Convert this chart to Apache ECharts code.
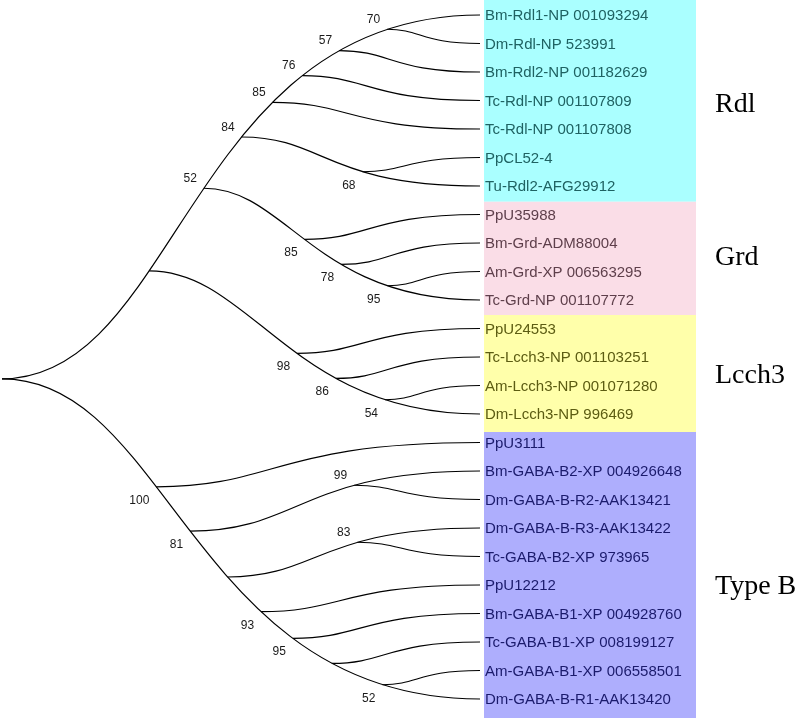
<!DOCTYPE html>
<html><head><meta charset="utf-8">
<script src="https://cdn.jsdelivr.net/npm/echarts@6/dist/echarts.min.js"></script>
<style>html,body{margin:0;padding:0;background:#fff}#c{width:800px;height:720px}</style>
</head><body><div id="c"></div>
<script>
// ---- data ----
const leafNames = [
  'Bm-Rdl1-NP 001093294','Dm-Rdl-NP 523991','Bm-Rdl2-NP 001182629','Tc-Rdl-NP 001107809',
  'Tc-Rdl-NP 001107808','PpCL52-4','Tu-Rdl2-AFG29912',
  'PpU35988','Bm-Grd-ADM88004','Am-Grd-XP 006563295','Tc-Grd-NP 001107772',
  'PpU24553','Tc-Lcch3-NP 001103251','Am-Lcch3-NP 001071280','Dm-Lcch3-NP 996469',
  'PpU3111','Bm-GABA-B2-XP 004926648','Dm-GABA-B-R2-AAK13421','Dm-GABA-B-R3-AAK13422',
  'Tc-GABA-B2-XP 973965','PpU12212','Bm-GABA-B1-XP 004928760','Tc-GABA-B1-XP 008199127',
  'Am-GABA-B1-XP 006558501','Dm-GABA-B-R1-AAK13420'
];
const nodeIds    = ['root','nX','nA52','nA84','nA85','nA76','nA57','nA70','nA68','nG85','nG78','nG95','nL98','nL86','nL54','nB100','nB81','nB99','nB3','nB83','nB93','nB95','nB6','nB52'];
const nodeUpper  = ['nX','nA52','nA84','nA85','nA76','nA57','nA70','L0','L5','L7','L8','L9','L11','L12','L13','L15','nB99','L16','nB83','L18','L20','L21','L22','L23'];
const nodeLower  = ['nB100','nL98','nG85','nA68','L4','L3','L2','L1','L6','nG78','nG95','L10','nL86','nL54','L14','nB81','nB3','L17','nB93','L19','nB95','nB6','nB52','L24'];
const nodeDepth  = [0,32.2,41.2,49.2,55.9,63.0,71.1,81.8,75.5,63.4,70.7,80.8,61.7,69.7,80.1,33.7,38.9,73.8,46.2,74.3,53.6,60.7,69.2,80.8];
const nodeSupport= ['','','52','84','85','76','57','70','68','85','78','95','98','86','54','100','81','99','','83','93','95','','52'];
const leafDepth = 100;
const groupNames    = ['Rdl','Grd','Lcch3','Type B'];
const groupFrom     = [-0.53, 6.55, 10.53, 14.63];
const groupTo       = [6.55, 10.53, 14.63, 24.67];
const groupLabelRow = [3.16, 8.53, 12.67, 20.06];

// ---- styles ----
const boxFill  = ['#aaffff','#fadde7','#ffffaa','#aeaefd'];
const textFill = ['#1f6262','#5e3f4b','#5c5c12','#1b1b6c'];
const BOX_GAP = 4, BOX_W = 212, GROUP_GAP = 19;

// ---- tree helpers ----
const idx = {}; nodeIds.forEach((id,i)=>idx[id]=i);
const isLeaf = id => id[0]==='L';
const leafIndex = id => +id.slice(1);
const rowCache = {};
function rowOf(id){
  if (isLeaf(id)) return leafIndex(id);
  if (rowCache[id]!=null) return rowCache[id];
  const i = idx[id];
  return rowCache[id] = (rowOf(nodeUpper[i]) + rowOf(nodeLower[i]))/2;
}
const depthOf = id => isLeaf(id) ? leafDepth : nodeDepth[idx[id]];

// chains: a branch path that keeps going in one vertical direction down to a leaf
const chains = []; const nodeDir = {};
function follow(start, first, dir){
  const pts=[start]; chains.push(pts); let cur=first;
  while(true){
    pts.push(cur);
    if (isLeaf(cur)) break;
    nodeDir[cur]=dir;
    const i=idx[cur];
    const cont = dir==='up' ? nodeUpper[i] : nodeLower[i];
    const side = dir==='up' ? nodeLower[i] : nodeUpper[i];
    follow(cur, side, dir==='up' ? 'down' : 'up');
    cur=cont;
  }
}
follow('root', nodeUpper[0], 'up');
follow('root', nodeLower[0], 'down');

// each chain is one cubic curve (horizontal at both ends), fitted to the node depths
const bx = (t,a,c) => 3*(1-t)*(1-t)*t*a + 3*(1-t)*t*t*c + t*t*t;
const pos = {root:[nodeDepth[0], rowOf('root')]};
const chainGeom = [];
chains.forEach(pts=>{
  const s = pos[pts[0]];
  const e = [leafDepth, rowOf(pts[pts.length-1])];
  const dx = e[0]-s[0], dy = e[1]-s[1];
  const inner = pts.slice(1,-1);
  const obs = inner.map(id=>{
    const sf = (rowOf(id)-s[1])/dy;
    const t = 0.5 - Math.sin(Math.asin(Math.max(-1,Math.min(1,1-2*sf)))/3);
    return {t, xf:(depthOf(id)-s[0])/dx};
  });
  let best=[0.37,0.37];
  if (obs.length){
    let bestErr=Infinity;
    for (let a=0.1;a<=0.9001;a+=0.01){
      const cs = obs.length>1 ? null : [a];
      const cList = cs || Array.from({length:81},(_,k)=>0.1+k*0.01);
      for (const c of cList){
        let err=0; obs.forEach(o=>{const d=bx(o.t,a,c)-o.xf; err+=d*d;});
        if (err<bestErr){bestErr=err; best=[a,c];}
      }
    }
  }
  const [a,c]=best;
  inner.forEach((id,k)=>{ pos[id]=[s[0]+dx*bx(obs[k].t,a,c), rowOf(id)]; });
  chainGeom.push({s, e, cp1:[s[0]+a*dx, s[1]], cp2:[s[0]+c*dx, e[1]]});
});

const supportNodes = nodeIds.filter((id,i)=>nodeSupport[i]!=='');
const groupOfLeaf = i => { for (let g=0; g<groupNames.length; g++) if (i>groupFrom[g] && i<groupTo[g]) return g; return 0; };

function renderChain(params, api){
  const g = chainGeom[params.dataIndex];
  const s=api.coord(g.s), e=api.coord(g.e), c1=api.coord(g.cp1), c2=api.coord(g.cp2);
  return {type:'bezierCurve', shape:{x1:s[0],y1:s[1],x2:e[0],y2:e[1],cpx1:c1[0],cpy1:c1[1],cpx2:c2[0],cpy2:c2[1]},
    style:{stroke:'#000', lineWidth:1.2, fill:'none'}};
}
function renderSupport(params, api){
  const id = supportNodes[params.dataIndex];
  const p = api.coord(pos[id]);
  const up = nodeDir[id]==='up';
  return {type:'text', x:p[0]-7, y:p[1]+(up?-9.5:13.5),
    style:{text:nodeSupport[idx[id]], fill:'#1a1a1a', font:'12px "Liberation Sans", Arial, sans-serif', align:'right', verticalAlign:'middle'}};
}
function renderBox(params, api){
  const g=params.dataIndex;
  const p0=api.coord([leafDepth, groupFrom[g]]), p1=api.coord([leafDepth, groupTo[g]]);
  const left=p0[0]+BOX_GAP;
  return {type:'group', children:[
    {type:'rect', shape:{x:left, y:p0[1], width:BOX_W, height:p1[1]-p0[1]}, style:{fill:boxFill[g]}},
    {type:'text', x:left+BOX_W+GROUP_GAP, y:api.coord([leafDepth, groupLabelRow[g]])[1],
      style:{text:groupNames[g], fill:'#000', font:'28px "Liberation Serif", "Times New Roman", serif', align:'left', verticalAlign:'middle'}}
  ]};
}
function renderLeaf(params, api){
  const i=params.dataIndex;
  const p=api.coord([leafDepth, i]);
  return {type:'text', x:p[0]+BOX_GAP+1, y:p[1]+1,
    style:{text:leafNames[i], fill:textFill[groupOfLeaf(i)], font:'15px "Liberation Sans", Arial, sans-serif', align:'left', verticalAlign:'middle'}};
}

const chart = echarts.init(document.getElementById('c'), null, {renderer:'canvas'});
chart.setOption({
  animation:false,
  backgroundColor:'#fff',
  grid:{left:2, right:320, top:0.75, bottom:6.75},
  xAxis:{type:'value', min:0, max:100, show:false},
  yAxis:{type:'value', min:-0.5, max:24.5, inverse:true, show:false},
  series:[
    {type:'custom', name:'boxes', z:1, renderItem:renderBox, data:groupNames.map((_,g)=>[leafDepth, groupFrom[g]])},
    {type:'custom', name:'leaves', z:3, renderItem:renderLeaf, data:leafNames.map((_,i)=>[leafDepth, i])},
    {type:'custom', name:'branches', z:2, renderItem:renderChain, data:chainGeom.map(g=>g.s)},
    {type:'custom', name:'support', z:3, renderItem:renderSupport, data:supportNodes.map(id=>pos[id])}
  ]
});
</script></body></html>
